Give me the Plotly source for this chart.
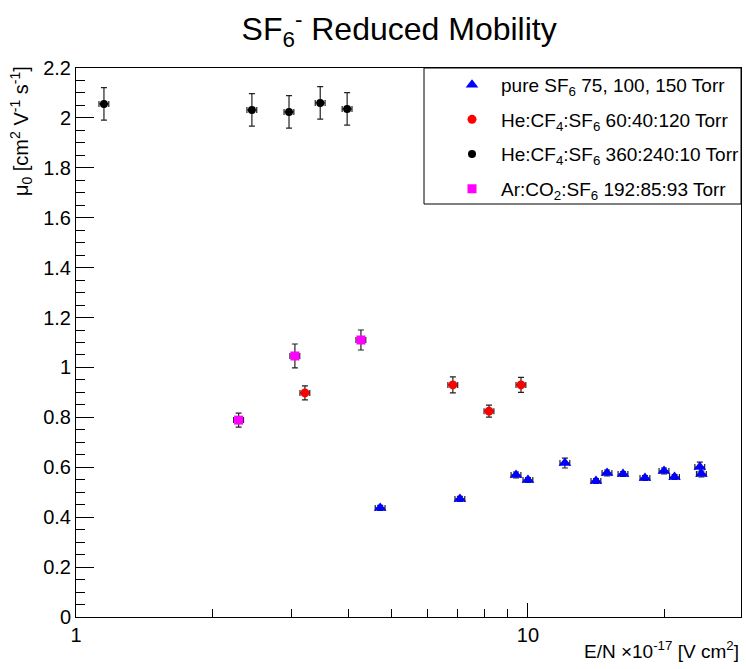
import plotly.graph_objects as go
import numpy as np

# pure SF6 75, 100, 150 Torr
sf6_x = [4.71, 7.07, 9.41, 10.0, 12.07, 14.14, 14.96, 16.23, 18.15, 20.0, 21.1, 24.0, 24.2]
sf6_y = [0.437, 0.473, 0.569, 0.549, 0.617, 0.545, 0.577, 0.573, 0.557, 0.585, 0.561, 0.601, 0.573]
sf6_ey = [0.01, 0.01, 0.012, 0.01, 0.02, 0.01, 0.012, 0.01, 0.01, 0.012, 0.01, 0.02, 0.012]

# He:CF4:SF6 60:40:120 Torr
he1_x = [3.21, 6.82, 8.20, 9.65]
he1_y = [0.898, 0.930, 0.825, 0.930]
he1_ey = [0.028, 0.032, 0.024, 0.03]

# He:CF4:SF6 360:240:10 Torr
he2_x = [1.153, 2.45, 2.96, 3.47, 3.98]
he2_y = [2.056, 2.032, 2.024, 2.06, 2.036]
he2_ey = [0.065, 0.065, 0.065, 0.065, 0.065]

# Ar:CO2:SF6 192:85:93 Torr
ar_x = [2.29, 3.05, 4.27]
ar_y = [0.789, 1.046, 1.11]
ar_ey = [0.028, 0.048, 0.04]

x_err_pct = 2.5

names = [
    "pure SF<sub>6</sub> 75, 100, 150 Torr",
    "He:CF<sub>4</sub>:SF<sub>6</sub> 60:40:120 Torr",
    "He:CF<sub>4</sub>:SF<sub>6</sub> 360:240:10 Torr",
    "Ar:CO<sub>2</sub>:SF<sub>6</sub> 192:85:93 Torr",
]

series = [
    (sf6_x, sf6_y, sf6_ey, "blue", "triangle-up", 11),
    (he1_x, he1_y, he1_ey, "red", "circle", 9),
    (he2_x, he2_y, he2_ey, "black", "circle", 8),
    (ar_x, ar_y, ar_ey, "magenta", "square", 9),
]

fig = go.Figure()
for i, ((xs, ys, eys, col, sym, sz), nm) in enumerate(zip(series, names)):
    fig.add_trace(go.Scatter(
        x=xs, y=ys, mode="markers", name=nm, legendgroup=f"g{i}",
        marker=dict(color=col, symbol=sym, size=sz, line=dict(width=0)),
        error_y=dict(type="data", array=eys, visible=True, color="#222222", thickness=1.2, width=3),
        error_x=dict(type="percent", value=x_err_pct, visible=True, color="#222222", thickness=1.2, width=3),
    ))

font_family = "Liberation Sans, Arial, sans-serif"

fig.update_layout(
    width=746, height=669,
    margin=dict(l=76, r=5, t=68, b=52, autoexpand=False),
    paper_bgcolor="white", plot_bgcolor="white",
    font=dict(family=font_family, color="black", size=20),
    title=dict(text="SF<sub>6</sub><sup>-</sup> Reduced Mobility", x=0.535, xanchor="center",
               y=0.957, yanchor="middle", font=dict(size=32, family=font_family)),
    showlegend=True,
    legend=dict(x=(443 - 76) / 665, xanchor="left", y=1.004, yanchor="top",
                bordercolor="rgba(0,0,0,0)", borderwidth=0, bgcolor="rgba(0,0,0,0)",
                font=dict(size=19, family=font_family),
                tracegroupgap=7, itemwidth=48),
    shapes=[dict(type="rect", xref="paper", yref="paper",
                 x0=(424 - 76) / 665, x1=1.0, y0=(617 - 204) / 549, y1=1.0,
                 line=dict(color="black", width=1), fillcolor="white", layer="below")],
)

fig.update_xaxes(
    type="log", range=[0, np.log10(29.6)],
    tickvals=[1, 10], ticktext=["1", "10"],
    ticks="inside", ticklen=14, tickcolor="black", tickwidth=1,
    minor=dict(tickvals=[2, 3, 4, 5, 6, 7, 8, 9, 20], ticks="inside", ticklen=8, tickcolor="black", tickwidth=1),
    showline=True, linecolor="black", linewidth=1, mirror=True,
    showgrid=False, zeroline=False,
    tickfont=dict(size=20),
)
fig.update_yaxes(
    range=[0, 2.2], tickvals=[0, 0.2, 0.4, 0.6, 0.8, 1, 1.2, 1.4, 1.6, 1.8, 2, 2.2],
    ticktext=["0", "0.2", "0.4", "0.6", "0.8", "1", "1.2", "1.4", "1.6", "1.8", "2", "2.2"],
    ticks="inside", ticklen=18, tickcolor="black", tickwidth=1,
    minor=dict(dtick=0.05, ticks="inside", ticklen=9, tickcolor="black", tickwidth=1),
    showline=True, linecolor="black", linewidth=1, mirror=True,
    showgrid=False, zeroline=False,
    tickfont=dict(size=20),
)

fig.add_annotation(
    text="E/N ×10<sup>-17</sup> [V cm<sup>2</sup>]", xref="paper", yref="paper",
    x=1.0, y=-0.035, xanchor="right", yanchor="top", showarrow=False,
    font=dict(size=19, family=font_family),
)
fig.add_annotation(
    text="μ<sub>0</sub> [cm<sup>2</sup> V<sup>-1</sup> s<sup>-1</sup>]", xref="paper", yref="paper",
    x=-0.082, y=1.008, xanchor="center", yanchor="top", textangle=-90, showarrow=False,
    font=dict(size=20, family=font_family),
)

fig.write_html("out.html")
